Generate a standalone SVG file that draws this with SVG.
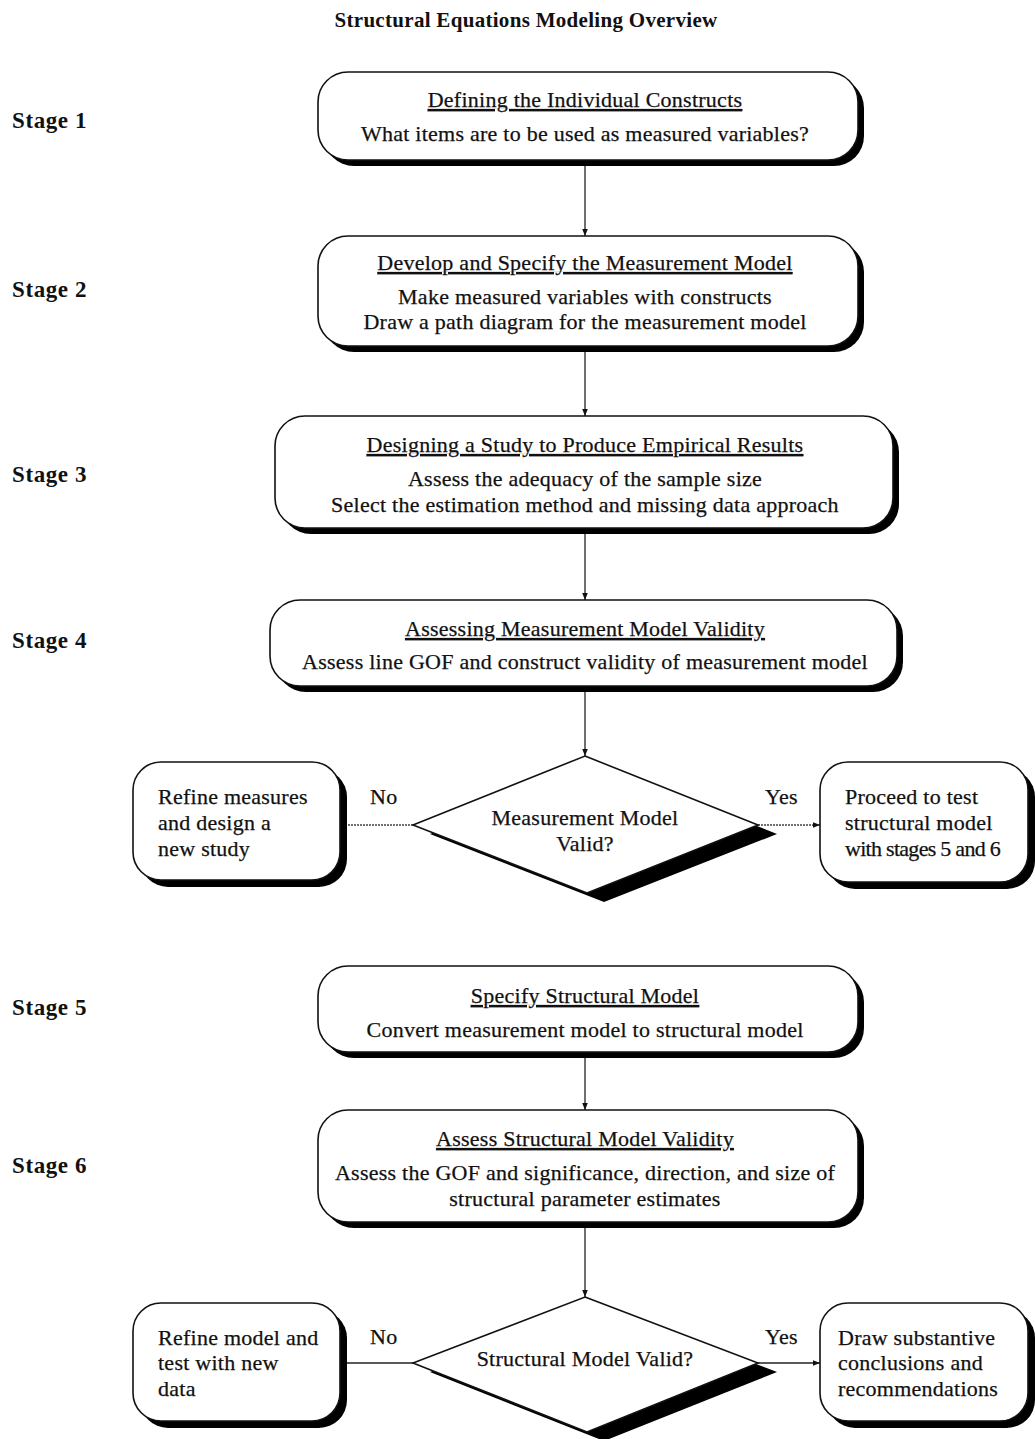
<svg xmlns="http://www.w3.org/2000/svg" width="1035" height="1439" viewBox="0 0 1035 1439">
  <style>
    text { font-family: "Liberation Serif", "Times New Roman", serif; fill: #111; }
    .title { font-size: 21px; font-weight: bold; letter-spacing: 0.3px; }
    .stage { font-size: 23px; font-weight: bold; letter-spacing: 0.6px; }
    .head { font-size: 22px; letter-spacing: 0.25px; text-decoration: underline; stroke: #111; stroke-width: 0.25; }
    .body { font-size: 22px; letter-spacing: 0.25px; stroke: #111; stroke-width: 0.25; }
    .c { text-anchor: middle; }
    .box { fill: #fff; stroke: #111; stroke-width: 1.6; }
    .shadow { fill: #000; }
    .link { stroke: #222; stroke-width: 1.3; fill: none; }
    .dot { stroke-dasharray: 2 1; stroke: #444; }
  </style>
  <defs>
    <marker id="arrow" viewBox="0 0 10 10" refX="10" refY="5" markerWidth="7" markerHeight="7" orient="auto" markerUnits="userSpaceOnUse">
      <path d="M0,1 L10,5 L0,9 z" fill="#111"/>
    </marker>
  </defs>

  <rect width="1035" height="1439" fill="#fff"/>

  <text class="title c" x="526" y="27">Structural Equations Modeling Overview</text>

  <!-- stage labels -->
  <g id="stage-labels">
    <text class="stage" x="12" y="128">Stage 1</text>
    <text class="stage" x="12" y="297">Stage 2</text>
    <text class="stage" x="12" y="482">Stage 3</text>
    <text class="stage" x="12" y="648">Stage 4</text>
    <text class="stage" x="12" y="1015">Stage 5</text>
    <text class="stage" x="12" y="1173">Stage 6</text>
  </g>

  <!-- connectors -->
  <g id="connectors">
    <line class="link" x1="585" y1="166" x2="585" y2="236" marker-end="url(#arrow)"/>
    <line class="link" x1="585" y1="352" x2="585" y2="416" marker-end="url(#arrow)"/>
    <line class="link" x1="585" y1="534" x2="585" y2="600" marker-end="url(#arrow)"/>
    <line class="link" x1="585" y1="692" x2="585" y2="756" marker-end="url(#arrow)"/>
    <line class="link dot" x1="413" y1="825" x2="340" y2="825" marker-end="url(#arrow)"/>
    <line class="link dot" x1="758" y1="825" x2="820" y2="825" marker-end="url(#arrow)"/>
    <line class="link" x1="585" y1="1058" x2="585" y2="1110" marker-end="url(#arrow)"/>
    <line class="link" x1="585" y1="1228" x2="585" y2="1297" marker-end="url(#arrow)"/>
    <line class="link" x1="413" y1="1363" x2="340" y2="1363" marker-end="url(#arrow)"/>
    <line class="link" x1="758" y1="1363" x2="820" y2="1363" marker-end="url(#arrow)"/>
    <text class="body" x="370" y="804">No</text>
    <text class="body" x="765" y="804">Yes</text>
    <text class="body" x="370" y="1344">No</text>
    <text class="body" x="765" y="1344">Yes</text>
  </g>

  <!-- stage 1 -->
  <g id="stage1">
    <rect class="shadow" x="324" y="78" width="540" height="88" rx="30"/>
    <rect class="box" x="318" y="72" width="540" height="88" rx="30"/>
    <text class="head c" x="585" y="107">Defining the Individual Constructs</text>
    <text class="body c" x="585" y="141">What items are to be used as measured variables?</text>
  </g>

  <!-- stage 2 -->
  <g id="stage2">
    <rect class="shadow" x="324" y="242" width="540" height="110" rx="30"/>
    <rect class="box" x="318" y="236" width="540" height="110" rx="30"/>
    <text class="head c" x="585" y="270">Develop and Specify the Measurement Model</text>
    <text class="body c" x="585" y="304">Make measured variables with constructs</text>
    <text class="body c" x="585" y="329">Draw a path diagram for the measurement model</text>
  </g>

  <!-- stage 3 -->
  <g id="stage3">
    <rect class="shadow" x="281" y="422" width="618" height="112" rx="30"/>
    <rect class="box" x="275" y="416" width="618" height="112" rx="30"/>
    <text class="head c" x="585" y="452">Designing a Study to Produce Empirical Results</text>
    <text class="body c" x="585" y="486">Assess the adequacy of the sample size</text>
    <text class="body c" x="585" y="512">Select the estimation method and missing data approach</text>
  </g>

  <!-- stage 4 -->
  <g id="stage4">
    <rect class="shadow" x="276" y="606" width="627" height="86" rx="30"/>
    <rect class="box" x="270" y="600" width="627" height="86" rx="30"/>
    <text class="head c" x="585" y="636">Assessing Measurement Model Validity</text>
    <text class="body c" x="585" y="669">Assess line GOF and construct validity of measurement model</text>
  </g>

  <!-- decision: measurement model -->
  <g id="decision1">
    <polygon class="shadow" points="602,765 777,834 604,902 430,834"/>
    <polygon class="box" points="585,756 758,825 587,893 413,825"/>
    <text class="body c" x="585" y="825">Measurement Model</text>
    <text class="body c" x="585" y="851">Valid?</text>
  </g>

  <g id="refine-measures">
    <rect class="shadow" x="140" y="769" width="207" height="118" rx="28"/>
    <rect class="box" x="133" y="762" width="207" height="118" rx="28"/>
    <text class="body" x="158" y="804">Refine measures</text>
    <text class="body" x="158" y="830">and design a</text>
    <text class="body" x="158" y="856">new study</text>
  </g>

  <g id="proceed">
    <rect class="shadow" x="827" y="769" width="208" height="120" rx="28"/>
    <rect class="box" x="820" y="762" width="208" height="120" rx="28"/>
    <text class="body" x="845" y="804">Proceed to test</text>
    <text class="body" x="845" y="830">structural model</text>
    <text class="body" x="845" y="856" textLength="156" lengthAdjust="spacing">with stages 5 and 6</text>
  </g>

  <!-- stage 5 -->
  <g id="stage5">
    <rect class="shadow" x="324" y="972" width="540" height="86" rx="30"/>
    <rect class="box" x="318" y="966" width="540" height="86" rx="30"/>
    <text class="head c" x="585" y="1003">Specify Structural Model</text>
    <text class="body c" x="585" y="1037">Convert measurement model to structural model</text>
  </g>

  <!-- stage 6 -->
  <g id="stage6">
    <rect class="shadow" x="324" y="1116" width="540" height="112" rx="30"/>
    <rect class="box" x="318" y="1110" width="540" height="112" rx="30"/>
    <text class="head c" x="585" y="1146">Assess Structural Model Validity</text>
    <text class="body c" x="585" y="1180">Assess the GOF and significance, direction, and size of</text>
    <text class="body c" x="585" y="1206">structural parameter estimates</text>
  </g>

  <!-- decision: structural model -->
  <g id="decision2">
    <polygon class="shadow" points="602,1306 777,1372 604,1441 430,1372"/>
    <polygon class="box" points="585,1297 758,1363 587,1432 413,1363"/>
    <text class="body c" x="585" y="1366">Structural Model Valid?</text>
  </g>

  <g id="refine-model">
    <rect class="shadow" x="140" y="1310" width="207" height="118" rx="28"/>
    <rect class="box" x="133" y="1303" width="207" height="118" rx="28"/>
    <text class="body" x="158" y="1345">Refine model and</text>
    <text class="body" x="158" y="1370">test with new</text>
    <text class="body" x="158" y="1396">data</text>
  </g>

  <g id="conclusions">
    <rect class="shadow" x="827" y="1310" width="208" height="118" rx="28"/>
    <rect class="box" x="820" y="1303" width="208" height="118" rx="28"/>
    <text class="body" x="838" y="1345">Draw substantive</text>
    <text class="body" x="838" y="1370">conclusions and</text>
    <text class="body" x="838" y="1396">recommendations</text>
  </g>
</svg>
